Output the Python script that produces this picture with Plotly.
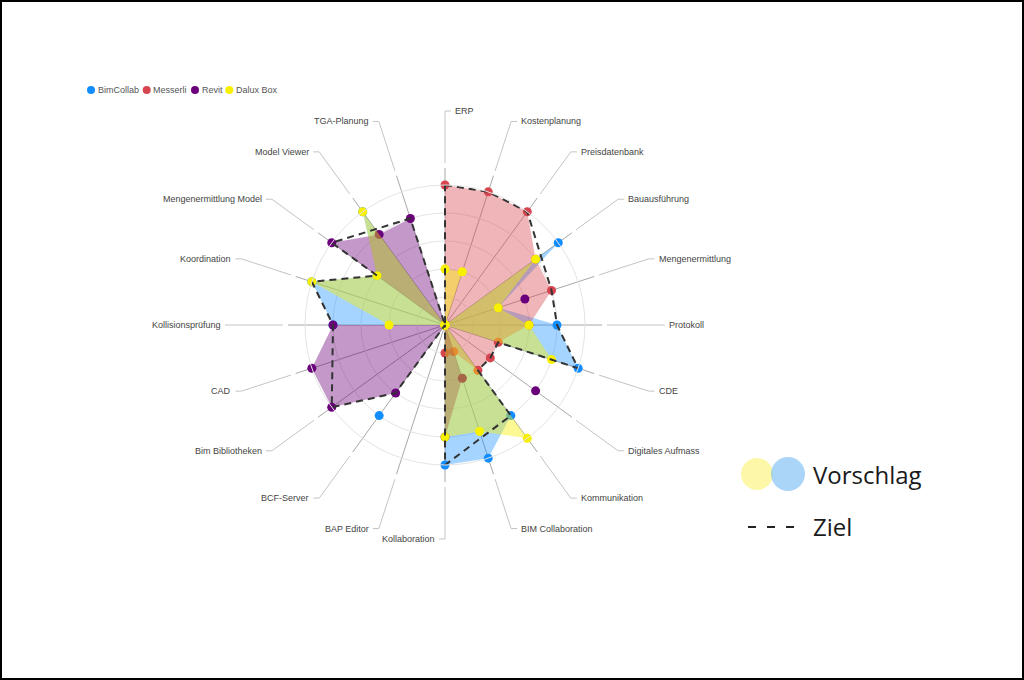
import math
import plotly.graph_objects as go

categories = [
    "ERP", "Kostenplanung", "Preisdatenbank", "Bauausführung", "Mengenermittlung",
    "Protokoll", "CDE", "Digitales Aufmass", "Kommunikation", "BIM Collaboration",
    "Kollaboration", "BAP Editor", "BCF-Server", "Bim Bibliotheken", "CAD",
    "Kollisionsprüfung", "Koordination", "Mengenermittlung Model", "Model Viewer", "TGA-Planung",
]

bimcollab = [0, 0, 0, 5, 2, 4, 5, 0, 4, 5, 5, 0, 4, 0, 0, 4, 5, 3, 5, 0]
messerli = [5, 5, 5, 4, 4, 3, 2, 2, 2, 1, 1, 0, 0, 0, 0, 0, 0, 0, 0, 0]
revit = [0, 0, 0, 0, 3, 0, 0, 4, 0, 2, 4, 0, 3, 5, 5, 4, 0, 5, 4, 4]
dalux_box = [2, 2, 0, 4, 2, 3, 4, 0, 5, 4, 4, 0, 0, 0, 0, 2, 5, 3, 5, 0]

# target outline ("Ziel"), walks round the chart and dips to the centre in places
ziel_theta = [
    "ERP", "Kostenplanung", "Preisdatenbank", "Mengenermittlung", "Protokoll", "CDE", "CDE",
    "Digitales Aufmass", "Kommunikation", "Kommunikation", "Kollaboration", "BAP Editor",
    "BCF-Server", "Bim Bibliotheken", "Kollisionsprüfung", "Koordination",
    "Mengenermittlung Model", "Mengenermittlung Model", "TGA-Planung", "ERP", "ERP",
]
ziel_r = [5, 5, 5, 4, 4, 5, 2, 2, 2, 4, 5, 0, 3, 5, 4, 5, 3, 5, 4, 0, 5]

series = [
    ("BimCollab", bimcollab, "#118DFF", "rgba(17,141,255,0.38)"),
    ("Messerli", messerli, "#D64550", "rgba(214,69,80,0.40)"),
    ("Revit", revit, "#6B007B", "rgba(107,0,123,0.40)"),
    ("Dalux Box", dalux_box, "#F7F000", "rgba(247,240,0,0.42)"),
]

W, H = 1024, 680
CX, CY, RAD = 445, 325, 140


def px(x):
    return x / W


def py(y):
    return 1 - y / H


fig = go.Figure()
for name, vals, color, fill in series:
    fig.add_trace(go.Scatterpolar(
        r=vals, theta=categories, name=name, mode="markers",
        fill="toself", fillcolor=fill,
        marker=dict(size=9, color=color), showlegend=False,
    ))

fig.add_trace(go.Scatterpolar(
    r=ziel_r, theta=ziel_theta, mode="lines", name="Ziel",
    line=dict(color="#333333", width=2, dash="7px,5px"), showlegend=False,
))

shapes = []
annotations = []
for i, cat in enumerate(categories):
    a = math.radians(i * 360 / len(categories))
    s, c = math.sin(a), math.cos(a)
    # spoke
    shapes.append(dict(type="line", xref="paper", yref="paper", layer="below",
                       x0=px(CX), y0=py(CY), x1=px(CX + 157 * s), y1=py(CY - 157 * c),
                       line=dict(color="#a8a8a8", width=1)))
    # leader line to the label
    right = i * 360 / len(categories) < 180
    ex, ey = CX + 214 * s, CY - 214 * c
    hx = ex + (6 if right else -6)
    shapes.append(dict(type="path", xref="paper", yref="paper", layer="below",
                       path="M {} {} L {} {} L {} {}".format(
                           px(CX + 162 * s), py(CY - 162 * c), px(ex), py(ey), px(hx), py(ey)),
                       line=dict(color="#c4c4c4", width=1)))
    annotations.append(dict(
        text=cat, xref="paper", yref="paper", showarrow=False,
        x=px(hx + (2 if right else -2)), y=py(ey),
        xanchor="left" if right else "right", yanchor="middle",
        font=dict(family="Liberation Sans, Arial", size=9, color="#444444"),
    ))

# legend at top left
legend_x = [91, 146.7, 195, 229.3]
for (name, vals, color, fill), lx in zip(series, legend_x):
    shapes.append(dict(type="circle", xref="paper", yref="paper",
                       x0=px(lx - 4), x1=px(lx + 4), y0=py(94), y1=py(86),
                       fillcolor=color, line=dict(width=0)))
    annotations.append(dict(text=name, xref="paper", yref="paper", showarrow=False,
                            x=px(lx + 4.5), y=py(90), xanchor="left", yanchor="middle",
                            font=dict(family="Liberation Sans, Arial", size=9, color="#555555")))

# right hand key
shapes.append(dict(type="circle", xref="paper", yref="paper",
                   x0=px(741), x1=px(773), y0=py(490), y1=py(458),
                   fillcolor="rgb(252,248,168)", line=dict(width=0)))
shapes.append(dict(type="circle", xref="paper", yref="paper",
                   x0=px(771), x1=px(805), y0=py(491), y1=py(457),
                   fillcolor="rgba(125,190,245,0.65)", line=dict(width=0)))
shapes.append(dict(type="line", xref="paper", yref="paper",
                   x0=px(748), x1=px(794), y0=py(527), y1=py(527),
                   line=dict(color="#222222", width=2, dash="8px,11px")))
annotations.append(dict(text="Vorschlag", xref="paper", yref="paper", showarrow=False,
                        x=px(811), y=py(474), xanchor="left", yanchor="middle",
                        font=dict(family="Open Sans", size=24, color="#1a1a1a")))
annotations.append(dict(text="Ziel", xref="paper", yref="paper", showarrow=False,
                        x=px(811), y=py(526), xanchor="left", yanchor="middle",
                        font=dict(family="Open Sans", size=24, color="#1a1a1a")))

# frame round the picture
shapes.append(dict(type="rect", xref="paper", yref="paper",
                   x0=px(1), x1=px(W - 1), y0=py(H - 1), y1=py(1),
                   line=dict(color="black", width=2)))

fig.update_layout(
    width=W, height=H,
    margin=dict(l=0, r=0, t=0, b=0),
    paper_bgcolor="white",
    showlegend=False,
    polar=dict(
        domain=dict(x=[px(CX - RAD), px(CX + RAD)], y=[py(CY + RAD), py(CY - RAD)]),
        bgcolor="rgba(0,0,0,0)",
        radialaxis=dict(range=[0, 5], dtick=1, showticklabels=False, ticks="",
                        showline=False, gridcolor="#e4e4e4", gridwidth=1),
        angularaxis=dict(categoryorder="array", categoryarray=categories,
                         direction="clockwise", rotation=90, showticklabels=False,
                         ticks="", showgrid=False, showline=True,
                         linecolor="#e4e4e4", linewidth=1),
    ),
    shapes=shapes,
    annotations=annotations,
)

fig.write_html("out.html", config={"displayModeBar": False},
               post_script="document.body.style.margin='0';")
